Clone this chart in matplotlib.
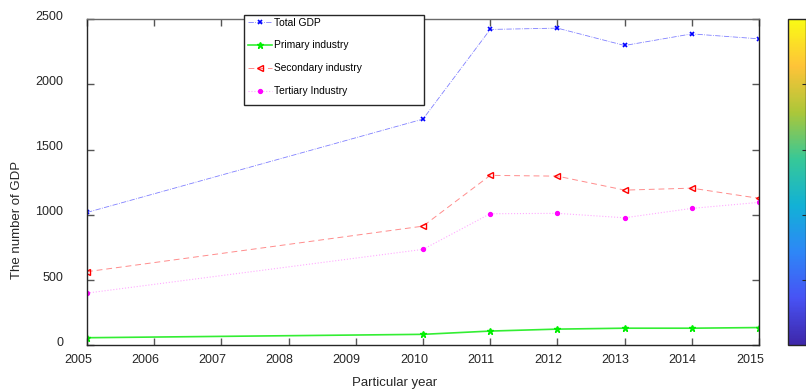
import matplotlib
matplotlib.use("Agg")
import matplotlib.pyplot as plt
import matplotlib.transforms as mtransforms
from matplotlib.colors import LinearSegmentedColormap
from matplotlib.cm import ScalarMappable
from matplotlib.patches import Rectangle

plt.rcParams['font.family'] = ['Liberation Sans', 'DejaVu Sans']

years = [2005, 2010, 2011, 2012, 2013, 2014, 2015]
total_gdp = [1018, 1733, 2420, 2430, 2297, 2386, 2348]
primary = [58, 84, 109, 124, 131, 131, 136]
secondary = [564, 913, 1302, 1296, 1189, 1204, 1126]
tertiary = [400, 735, 1008, 1011, 977, 1049, 1095]
xticks = list(range(2005, 2016))
yticks = [0, 500, 1000, 1500, 2000, 2500]

# parula-like colormap for the side bar
parula = LinearSegmentedColormap.from_list("parula", [
    (0.2422, 0.1504, 0.6603), (0.2810, 0.3228, 0.9579), (0.1786, 0.5289, 0.9682),
    (0.0689, 0.6948, 0.8394), (0.2161, 0.7843, 0.5923), (0.6720, 0.7793, 0.2227),
    (0.9970, 0.7659, 0.2199), (0.9769, 0.9839, 0.0805)])

W, H = 806, 392
fig = plt.figure(figsize=(W / 100, H / 100), dpi=100)
ax = fig.add_axes([87 / W, 1 - 345.3 / H, 672 / W, 326.3 / H])

ax.plot(years, total_gdp, '-.', color='#8080ff', lw=0.6, marker='x', ms=3.0,
        mec='b', mew=1.2, label='Total GDP')
ax.plot(years, primary, '-', color='#33ee33', lw=1.2, marker='*', ms=5.0,
        mec='#00ee00', mfc='#00ff00', label='Primary industry')
ax.plot(years, secondary, '--', color='#ff8c8c', lw=0.7, marker='<', ms=4.5,
        mec='r', mfc='none', mew=1.0, dashes=(6, 4), label='Secondary industry')
ax.plot(years, tertiary, ':', color='#ffaaff', lw=0.8, marker='o', ms=2.8,
        mec='#ff00ff', mfc='#ff00ff', label='Tertiary Industry')

ax.set_xlim(2005, 2015)
ax.set_ylim(0, 2500)
ax.set_xticks(xticks)
ax.set_yticks(yticks)
ax.set_xticklabels([str(x) for x in xticks])
ax.tick_params(direction='in', length=5, width=1.0, color='#555555',
               labelsize=9, labelcolor='#262626', top=True, right=True)
ax.tick_params(axis='x', pad=6)
ax.tick_params(axis='y', pad=17)
for s in ax.spines.values():
    s.set_color('#262626')
    s.set_linewidth(1.0)
ax.spines['top'].set_color('#6a6a6a')

# shift tick labels the way the original renderer placed them
xoff = mtransforms.ScaledTranslation(-0.09, 0, fig.dpi_scale_trans)
for lab in ax.get_xticklabels():
    lab.set_transform(lab.get_transform() + xoff)
yoff = mtransforms.ScaledTranslation(0, 0.04, fig.dpi_scale_trans)
for lab in ax.get_yticklabels():
    lab.set_transform(lab.get_transform() + yoff)

ax.set_xlabel('Particular year', fontsize=9.5, color='#262626')
ax.set_ylabel('The number of GDP', fontsize=9.5, color='#262626')
ax.xaxis.set_label_coords(0.458, -0.097)
ax.yaxis.set_label_coords(-0.095, 0.384)

# legend with a fixed box
box = Rectangle((244 / W, 1 - 105 / H), 180 / W, 90 / H,
                transform=fig.transFigure, fc='white', ec='#262626', lw=1.0,
                zorder=5, clip_on=False)
ax.add_patch(box)
leg = ax.legend(loc='upper left', bbox_to_anchor=(245 / W, 1 - 15 / H),
                bbox_transform=fig.transFigure, frameon=False, fontsize=7.4,
                handlelength=2.4, handletextpad=0.2, labelspacing=1.25,
                borderpad=0.25, borderaxespad=0)
leg.set_zorder(6)

cax = fig.add_axes([788 / W, 1 - 345.3 / H, 18 / W, 326.3 / H])
cb = fig.colorbar(ScalarMappable(cmap=parula), cax=cax)
cb.set_ticks([0.2, 0.4, 0.6, 0.8])
cax.tick_params(direction='in', length=3, color='#262626', labelright=False)
cb.outline.set_edgecolor('#262626')
cb.outline.set_linewidth(1.0)

fig.savefig('out.png', dpi=100)
